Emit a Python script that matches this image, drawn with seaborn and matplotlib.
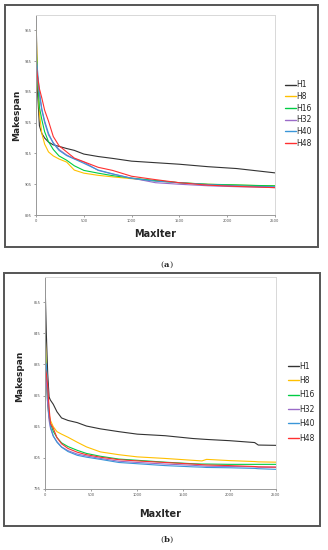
import matplotlib
matplotlib.use("Agg")
import matplotlib.pyplot as plt
from matplotlib.patches import Rectangle
import seaborn as sns
import pandas as pd

series = ["H1", "H8", "H16", "H32", "H40", "H48"]
colors = ["#333333", "#FFC000", "#00CC44", "#9A6BC8", "#3A96D8", "#FF3030"]

# Panel (a)
a_iter = [0, 15, 35, 60, 90, 130, 180, 240, 320, 400, 500, 650, 800, 1000, 1250, 1500, 1800, 2100, 2300, 2500]
a_h1 = [960, 935, 924, 921.5, 920, 918.7, 917.8, 917.3, 916.6, 916, 914.8, 914, 913.4, 912.5, 912, 911.5, 910.7, 910.1, 909.4, 908.7]
a_h8 = [956, 940, 928, 921.5, 918, 915.5, 914.2, 913.2, 912.2, 909.6, 908.6, 907.9, 907.4, 906.8, 906.1, 905.5, 905, 904.7, 904.6, 904.5]
a_h16 = [950, 940, 930, 926, 922, 918.8, 916.3, 914.2, 912.8, 911, 909.5, 908.6, 907.8, 907, 906.2, 905.5, 905, 904.8, 904.6, 904.5]
a_h32 = [946, 940, 934, 929, 925, 921, 918.5, 916.3, 914.5, 913.3, 912.2, 909.5, 908.3, 907, 905.5, 905, 904.5, 904.2, 904.1, 903.9]
a_h40 = [946, 942, 935, 929.5, 925.5, 921.5, 918.3, 916, 914.3, 913.2, 911.8, 909.6, 908.4, 906.9, 906, 905.5, 904.9, 904.5, 904.3, 904.2]
a_h48 = [944, 940, 936, 933, 929, 925.5, 920.5, 917.5, 915.5, 913.5, 912.3, 910.5, 909.5, 907.6, 906.5, 905.5, 904.7, 904.3, 904.1, 903.9]
a_yticks = [895, 905, 915, 925, 935, 945, 955]

# Panel (b)
b_iter = [0, 15, 30, 45, 60, 90, 130, 180, 250, 350, 450, 600, 800, 1000, 1300, 1600, 1700, 1750, 2000, 2270, 2310, 2500]
b_h1 = [863, 845, 832, 824.5, 823.5, 822.2, 819.8, 817.8, 817, 816.3, 815.2, 814.3, 813.4, 812.6, 812.1, 811.2, 811, 810.9, 810.5, 809.9, 809.1, 809]
b_h8 = [848, 833, 824, 819, 817, 815, 813.4, 812.6, 811.6, 810, 808.5, 806.9, 806, 805.3, 804.8, 804.2, 804, 804.5, 804.1, 803.8, 803.7, 803.6]
b_h16 = [845, 830, 822, 818, 816, 813.5, 811.5, 809.8, 808.6, 807.4, 806.4, 805.5, 804.6, 804.2, 803.6, 803.1, 803, 803, 802.9, 802.9, 802.9, 802.9]
b_h32 = [836, 830, 822, 817, 814.5, 812, 810.2, 808.5, 807.3, 806.2, 805.6, 804.8, 803.9, 803.5, 803, 802.6, 802.4, 802.3, 802.2, 802.1, 802, 802]
b_h40 = [836, 835, 828, 819, 815, 812, 810, 808.4, 807, 805.8, 805.2, 804.5, 803.5, 803.1, 802.5, 802.1, 802, 801.9, 801.8, 801.6, 801.5, 801.3]
b_h48 = [834, 832, 828, 821, 816, 814.5, 811.5, 809.5, 808, 806.8, 806, 805.2, 804.4, 804, 803.5, 803, 802.8, 802.7, 802.5, 802.2, 802.1, 802]
b_yticks = [795, 805, 815, 825, 835, 845, 855]

x_ticks = [0, 500, 1000, 1500, 2000, 2500]

sns.set_theme(style="white")
plt.rcParams['font.family'] = ['DejaVu Sans']

fig = plt.figure(figsize=(3.28, 5.5), dpi=100)
palette = dict(zip(series, colors))


def make_df(xs, ys_list):
    rows = []
    for name, ys in zip(series, ys_list):
        for x, y in zip(xs, ys):
            rows.append({"MaxIter": x, "Makespan": y, "Series": name})
    return pd.DataFrame(rows)


def draw(ax, df, yticks, ylim, lw_last, spacing):
    sns.lineplot(data=df, x="MaxIter", y="Makespan", hue="Series", palette=palette,
                 hue_order=series, ax=ax, linewidth=0.8,
                 estimator=None, sort=True)
    for line in ax.get_lines():
        if line.get_label() == "H48":
            line.set_linewidth(lw_last)
    ax.set_xlim(0, 2500)
    ax.set_ylim(*ylim)
    ax.set_xticks(x_ticks)
    ax.set_yticks(yticks)
    ax.tick_params(axis="both", labelsize=2.6, length=1.5, width=0.4, pad=1.5,
                   colors="#555555", left=True, bottom=True)
    for s in ["left", "bottom"]:
        ax.spines[s].set_color("#999999")
        ax.spines[s].set_linewidth(0.7)
    for s in ["top", "right"]:
        ax.spines[s].set_color("#d8d8d8")
        ax.spines[s].set_linewidth(0.7)
    ax.set_xlabel("MaxIter", fontsize=7, fontweight="bold")
    ax.set_ylabel("Makespan", fontsize=6.5, fontweight="bold")
    leg = ax.legend(loc="center left", bbox_to_anchor=(1.02, 0.0), frameon=False,
                    fontsize=5.5, handlelength=1.4, handletextpad=0.1,
                    labelspacing=spacing, borderaxespad=0)
    for h in leg.get_lines():
        h.set_linewidth(1.0)
    return leg


ax1 = fig.add_axes([0.110, 0.609, 0.728, 0.364])
df_a = make_df(a_iter, [a_h1, a_h8, a_h16, a_h32, a_h40, a_h48])
leg1 = draw(ax1, df_a, a_yticks, (895, 960), 0.8, 0.35)
leg1.set_bbox_to_anchor((1.03, 0.505))
ax1.yaxis.set_label_coords(-0.063, 0.5)
ax1.xaxis.set_label_coords(0.5, -0.07)

ax2 = fig.add_axes([0.137, 0.111, 0.704, 0.385])
df_b = make_df(b_iter, [b_h1, b_h8, b_h16, b_h32, b_h40, b_h48])
leg2 = draw(ax2, df_b, b_yticks, (795, 863), 1.3, 0.7)
leg2.set_bbox_to_anchor((1.04, 0.41))
ax2.yaxis.set_label_coords(-0.09, 0.53)
ax2.xaxis.set_label_coords(0.5, -0.095)

# outer frames
fig.patches.append(Rectangle((5 / 328, 1 - 247 / 550), 313 / 328, 242 / 550,
                             transform=fig.transFigure, fill=False,
                             edgecolor="#555555", linewidth=1.4))
fig.patches.append(Rectangle((4 / 328, 1 - 526 / 550), 316 / 328, 253 / 550,
                             transform=fig.transFigure, fill=False,
                             edgecolor="#555555", linewidth=1.4))

fig.text(0.5, 1 - 265 / 550, "(", ha="right", va="center", fontsize=6, family="DejaVu Serif")
fig.text(0.5, 1 - 265 / 550, "a", ha="left", va="center", fontsize=6, family="DejaVu Serif", fontweight="bold")
fig.text(0.5 + 0.016, 1 - 265 / 550, ")", ha="left", va="center", fontsize=6, family="DejaVu Serif")
fig.text(0.5, 1 - 540 / 550, "(", ha="right", va="center", fontsize=6, family="DejaVu Serif")
fig.text(0.5, 1 - 540 / 550, "b", ha="left", va="center", fontsize=6, family="DejaVu Serif", fontweight="bold")
fig.text(0.5 + 0.018, 1 - 540 / 550, ")", ha="left", va="center", fontsize=6, family="DejaVu Serif")

fig.savefig("out.png", dpi=100)
